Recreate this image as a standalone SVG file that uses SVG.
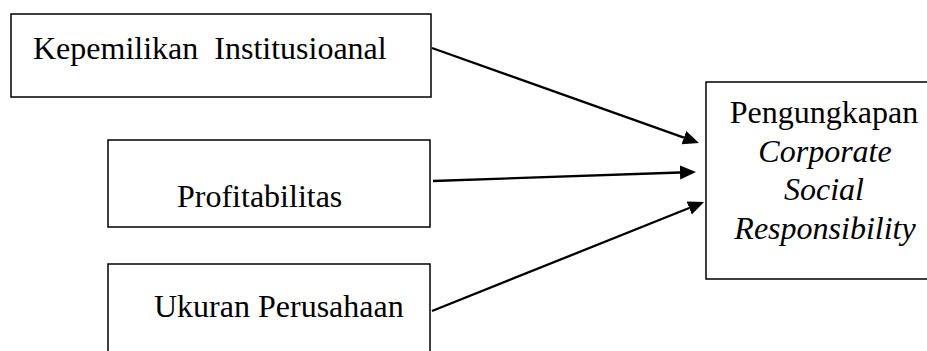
<svg xmlns="http://www.w3.org/2000/svg" width="927" height="351" viewBox="0 0 927 351">
<style>
.box{fill:#fff;stroke:#000;stroke-width:1.5}
.t{font-family:"Liberation Serif","Times New Roman",serif;font-size:32px;fill:#000}
.i{font-style:italic}
.c{stroke:#000;stroke-width:2.3;fill:none}
</style>
<defs>
<marker id="ah" markerUnits="userSpaceOnUse" markerWidth="18" markerHeight="16" refX="0" refY="7" orient="auto">
<path d="M0,0 L16,7 L0,14 z" fill="#000"/>
</marker>
</defs>
<rect width="927" height="351" fill="#fff"/>
<g id="n1"><rect class="box" x="11" y="14" width="420" height="83"/><text class="t" x="33" y="59" xml:space="preserve">Kepemilikan  Institusioanal</text></g>
<g id="n2"><rect class="box" x="108" y="140" width="322" height="87"/><text class="t" x="177" y="207">Profitabilitas</text></g>
<g id="n3"><rect class="box" x="108" y="264" width="322" height="100"/><text class="t" x="154" y="317">Ukuran Perusahaan</text></g>
<g id="n4"><rect class="box" x="706" y="82" width="240" height="197"/>
<text class="t" x="824" y="123" text-anchor="middle">Pengungkapan</text>
<text class="t i" x="825" y="162" text-anchor="middle">Corporate</text>
<text class="t i" x="824" y="200" text-anchor="middle">Social</text>
<text class="t i" x="825" y="239" text-anchor="middle">Responsibility</text></g>
<g id="connectors">
<line class="c" x1="432" y1="48" x2="683.9" y2="137.6" marker-end="url(#ah)"/>
<line class="c" x1="433" y1="181" x2="680" y2="172.5" marker-end="url(#ah)"/>
<line class="c" x1="432" y1="311" x2="689.2" y2="208" marker-end="url(#ah)"/>
</g>
</svg>
